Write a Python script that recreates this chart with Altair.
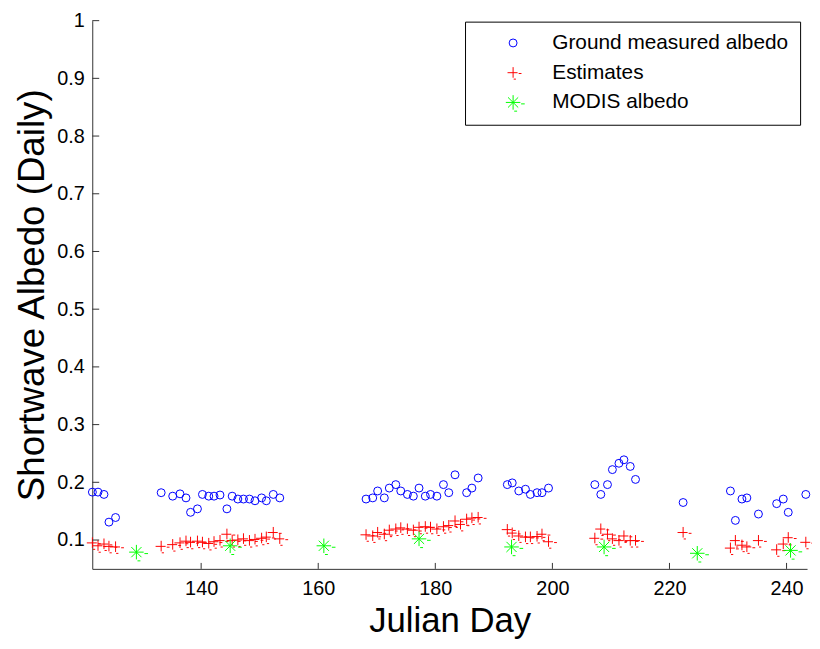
import altair as alt
import pandas as pd

# Ground measured albedo (blue circles)
ground_day = [121.42, 122.38, 123.40, 124.25, 125.38,
              133.17, 135.14, 136.39, 137.41, 138.19, 139.37, 140.22, 141.30, 142.20, 143.22,
              144.40, 145.30, 146.27, 147.23, 148.25, 149.20, 150.33, 151.13, 152.32, 153.43,
              168.17, 169.31, 170.15, 171.29, 172.14, 173.25, 174.10, 175.23, 176.25, 177.22,
              178.29, 179.18, 180.27, 181.39, 182.30, 183.37, 185.35, 186.25, 187.32,
              192.30, 193.14, 194.26, 195.40, 196.24, 197.38, 198.22, 199.34,
              207.25, 208.27, 209.41, 210.25, 211.37, 212.22, 213.30, 214.20,
              222.33, 230.41, 231.26, 232.38, 233.22, 235.20, 238.31, 239.44, 240.29, 243.29]
ground_val = [0.183, 0.183, 0.179, 0.131, 0.139,
              0.182, 0.176, 0.180, 0.173, 0.148, 0.154, 0.179, 0.176, 0.176, 0.178,
              0.154, 0.176, 0.171, 0.171, 0.171, 0.168, 0.173, 0.168, 0.179, 0.173,
              0.171, 0.173, 0.185, 0.173, 0.190, 0.196, 0.185, 0.179, 0.176, 0.190,
              0.176, 0.179, 0.176, 0.196, 0.182, 0.213, 0.182, 0.190, 0.2075,
              0.196, 0.199, 0.185, 0.188, 0.179, 0.182, 0.182, 0.190,
              0.196, 0.179, 0.196, 0.222, 0.233, 0.239, 0.2275, 0.205,
              0.165, 0.185, 0.134, 0.171, 0.173, 0.145, 0.163, 0.171, 0.148, 0.179]

# Estimates (red plus)
est_day = [121.42, 122.38, 123.40, 124.25, 125.38,
           133.17, 135.14, 136.39, 137.41, 138.19, 139.37, 140.22, 141.30, 142.20, 143.22,
           144.40, 145.30, 146.27, 147.23, 148.25, 149.20, 150.33, 151.13, 152.32, 153.43,
           168.17, 169.31, 170.15, 171.29, 172.14, 173.25, 174.10, 175.23, 176.25, 177.22,
           178.29, 179.18, 180.27, 181.39, 182.30, 183.37, 184.30, 185.35, 186.25, 187.32,
           192.30, 193.14, 194.26, 195.40, 196.24, 197.38, 198.22, 199.34,
           207.25, 208.27, 209.41, 210.25, 211.37, 212.22, 213.30, 214.20,
           222.33, 230.41, 231.26, 232.38, 233.22, 235.20, 238.31, 239.44, 240.29, 243.29]
est_val = [0.095, 0.090, 0.093, 0.089, 0.088,
           0.089, 0.092, 0.095, 0.098, 0.096, 0.098, 0.096, 0.094, 0.097, 0.099,
           0.110, 0.099, 0.100, 0.102, 0.099, 0.101, 0.103, 0.105, 0.113, 0.102,
           0.109, 0.107, 0.113, 0.110, 0.117, 0.119, 0.121, 0.119, 0.117, 0.122,
           0.123, 0.122, 0.119, 0.123, 0.125, 0.133, 0.127, 0.136, 0.138, 0.139,
           0.118, 0.112, 0.107, 0.105, 0.105, 0.106, 0.110, 0.097,
           0.103, 0.119, 0.110, 0.102, 0.099, 0.107, 0.099, 0.099,
           0.113, 0.086, 0.099, 0.091, 0.088, 0.099, 0.083, 0.093, 0.104, 0.096]

# MODIS albedo (green asterisks)
modis_day = [128.94, 144.96, 160.96, 177.22, 193.02, 208.83, 224.75, 240.68]
modis_val = [0.079, 0.090, 0.090, 0.102, 0.088, 0.088, 0.077, 0.082]

series_names = ["Ground measured albedo", "Estimates", "MODIS albedo"]
series_colors = ["#0000ff", "#ff0000", "#00ff00"]
x_ticks = [140, 160, 180, 200, 220, 240]
y_ticks = [0.1, 0.2, 0.3, 0.4, 0.5, 0.6, 0.7, 0.8, 0.9, 1.0]

plus_path = "M-0.95,0L0.76,0M0.95,0.14L1.43,0.14M0,-0.95L0,0.86M0.1,1.1L0.48,1.1"
star_path = ("M-1,0L1,0M0,-1L0,1M-0.7,-0.7L0.7,0.7M-0.7,0.7L0.7,-0.7"
             "M1.1,0.2L1.6,0.2M0.15,1.2L0.55,1.2")
shapes = ["circle", plus_path, star_path]
sizes = [64, 215, 110]

df = pd.concat([
    pd.DataFrame({"day": ground_day, "val": ground_val, "series": series_names[0]}),
    pd.DataFrame({"day": est_day, "val": est_val, "series": series_names[1]}),
    pd.DataFrame({"day": modis_day, "val": modis_val, "series": series_names[2]}),
])

W, H = 721, 553
xscale = alt.Scale(domain=[121.4, 243.5], nice=False, zero=False)
yscale = alt.Scale(domain=[0.05, 1.0], nice=False, zero=False)
font = "Liberation Sans"

xaxis = alt.Axis(values=x_ticks, title="Julian Day", ticks=False, grid=False,
                 labelFontSize=20, titleFontSize=35, titleFontWeight="normal",
                 labelPadding=10, titlePadding=5, labelColor="black",
                 titleColor="black", domainColor="#333333")
yaxis = alt.Axis(values=y_ticks, format=".1~f", title="Shortwave Albedo (Daily)",
                 ticks=False, grid=False, labelFontSize=20, titleFontSize=37,
                 titleFontWeight="normal", labelPadding=8, titlePadding=5,
                 labelColor="black", titleColor="black", domainColor="#333333")

points = alt.Chart(df).mark_point(filled=False, strokeWidth=1, opacity=1).encode(
    x=alt.X("day:Q", scale=xscale, axis=xaxis, title="Julian Day"),
    y=alt.Y("val:Q", scale=yscale, axis=yaxis, title="Shortwave Albedo (Daily)"),
    color=alt.Color("series:N", scale=alt.Scale(domain=series_names, range=series_colors),
                    legend=alt.Legend(title=None, orient="none", legendX=376, legendY=1,
                                      labelLimit=400)),
    shape=alt.Shape("series:N", scale=alt.Scale(domain=series_names, range=shapes)),
    size=alt.Size("series:N", scale=alt.Scale(domain=series_names, range=sizes), legend=None),
)

ytick_rules = alt.Chart(pd.DataFrame({"v": y_ticks})).mark_rule(color="#333333", strokeWidth=1).encode(
    y=alt.Y("v:Q", scale=yscale, axis=yaxis, title="Shortwave Albedo (Daily)"),
    x=alt.value(0), x2=alt.value(7),
)
xtick_rules = alt.Chart(pd.DataFrame({"v": x_ticks})).mark_rule(color="#333333", strokeWidth=1).encode(
    x=alt.X("v:Q", scale=xscale, axis=xaxis, title="Julian Day"),
    y=alt.value(H), y2=alt.value(H - 6),
)

chart = alt.layer(points, ytick_rules, xtick_rules).properties(
    width=W, height=H,
    autosize=alt.AutoSizeParams(type="none"),
    padding={"left": 85, "top": 10, "right": 5, "bottom": 70},
).configure(
    font=font,
).configure_view(
    stroke=None,
).configure_legend(
    strokeColor="black", fillColor="white", padding=11, cornerRadius=0,
    labelFontSize=21, labelFont=font, labelColor="black", labelLimit=400,
    symbolOffset=27, labelOffset=29, rowPadding=8, symbolSize=100,
    symbolStrokeWidth=1,
)

chart.save("out.html", embed_options={"renderer": "svg", "actions": False})
